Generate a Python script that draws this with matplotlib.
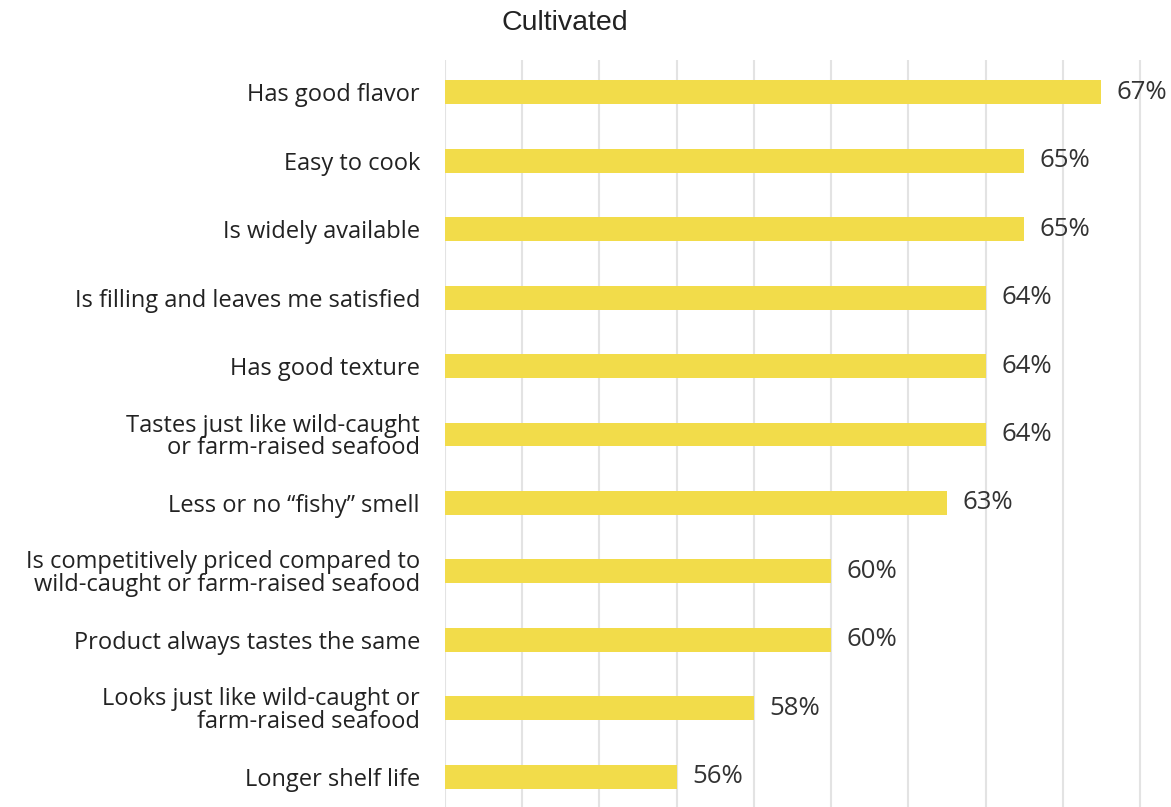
import numpy as np
import matplotlib.pyplot as plt

labels = [
    'Has good flavor',
    'Easy to cook',
    'Is widely available',
    'Is filling and leaves me satisfied',
    'Has good texture',
    'Tastes just like wild-caught\nor farm-raised seafood',
    'Less or no \u201cfishy\u201d smell',
    'Is competitively priced compared to\nwild-caught or farm-raised seafood',
    'Product always tastes the same',
    'Looks just like wild-caught or\nfarm-raised seafood',
    'Longer shelf life',
]
values = [67, 65, 65, 64, 64, 64, 63, 60, 60, 58, 56]

BAR_COLOR = '#F2DC4A'
TEXT_COLOR = '#222222'

fig = plt.figure(figsize=(11.71, 8.07), dpi=100)
ax = fig.add_axes([0.380, 0.0, 0.620, 0.9257])

y = np.arange(len(labels))
ax.barh(y, values, height=0.35, color=BAR_COLOR, zorder=2)

ax.set_xlim(50, 68.8)
ax.set_ylim(10.44, -0.47)
ax.set_xticks(np.arange(50, 69, 2))
ax.set_xticklabels([])
ax.grid(axis='x', color='#e3e3e3', linewidth=1.5, zorder=0)
ax.set_yticks(y)
ax.set_yticklabels(labels, fontsize=17, color=TEXT_COLOR, family='Open Sans',
                   linespacing=0.92)
ax.tick_params(axis='both', length=0, pad=18)
for s in ax.spines.values():
    s.set_visible(False)

# value labels to the right of each bar
for yi, v in zip(y, values):
    ax.text(v + 0.4, yi, f'{v}%', va='center', ha='left', fontsize=18.5,
            color='#333333', family='Open Sans')

fig.text(0.4825, 0.972, 'Cultivated', ha='center', va='center', fontsize=20.5,
         color=TEXT_COLOR, family='Liberation Sans')

fig.savefig('out.png', dpi=100, facecolor='white')
